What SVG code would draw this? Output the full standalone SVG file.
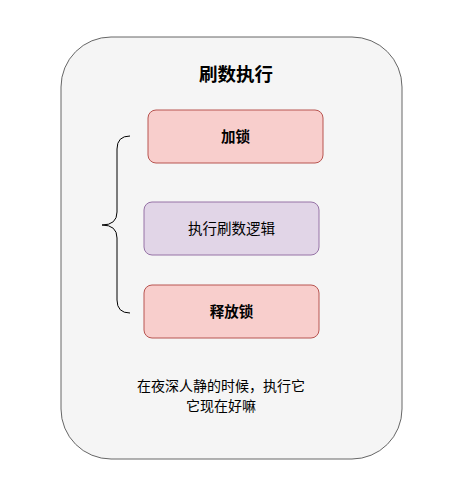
<svg xmlns="http://www.w3.org/2000/svg" width="450" height="478" viewBox="0 0 450 478">
<style>
text{font-family:"Noto Sans CJK SC","Liberation Sans",sans-serif;text-anchor:middle;fill:#000}
.red rect{fill:#f8cecc;stroke:#b85450;stroke-width:1}
.pur rect{fill:#e1d5e7;stroke:#9673a6;stroke-width:1}
.lbl{font-size:14.5px}
.note{font-size:14px}
.b{font-weight:bold}
</style>
<rect width="450" height="478" fill="#ffffff"/>
<g id="container">
<rect x="61" y="37" width="341" height="422" rx="50" ry="50" fill="#f5f5f5" stroke="#666666" stroke-width="1"/>
<text x="236" y="81" font-size="18.5" class="b">刷数执行</text>
</g>
<g id="connectors">
<path d="M130,136 Q117,136 117,149 L117,212 Q117,225 102,225 Q117,225 117,238 L117,300 Q117,313 130,313" fill="none" stroke="#000000" stroke-width="1"/>
</g>
<g id="lock" class="red">
<rect x="148" y="110" width="175" height="53" rx="8"/>
<text x="235.5" y="142" class="lbl b">加锁</text>
</g>
<g id="logic" class="pur">
<rect x="144" y="202" width="175" height="53" rx="8"/>
<text x="231.5" y="234" class="lbl">执行刷数逻辑</text>
</g>
<g id="unlock" class="red">
<rect x="144" y="285" width="175" height="53" rx="8"/>
<text x="231.5" y="317" class="lbl b">释放锁</text>
</g>
<g id="note">
<text x="221" y="391" class="note">在夜深人静的时候，执行它</text>
<text x="221" y="411" class="note">它现在好嘛</text>
</g>
</svg>
